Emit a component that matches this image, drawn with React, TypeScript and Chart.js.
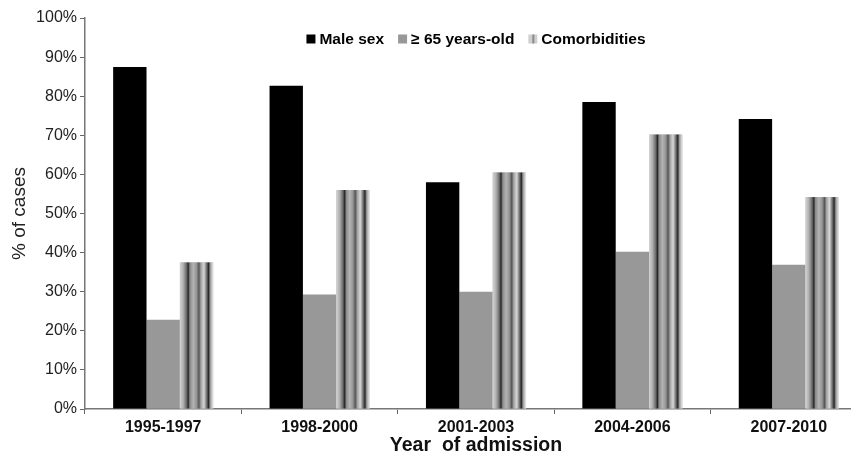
import React, { useEffect, useRef } from "react";
import { Chart, registerables } from "chart.js";

Chart.register(...registerables);

const categories = ["1995-1997", "1998-2000", "2001-2003", "2004-2006", "2007-2010"];
const maleSex = [87.5, 82.7, 58.0, 78.5, 74.2];
const age65 = [22.8, 29.3, 30.0, 40.2, 36.9];
const comorbidities = [37.5, 56.0, 60.5, 70.2, 54.2];
const seriesNames = ["Male sex", "\u2265 65 years-old", "Comorbidities"];

const stripeStops: [number, string][] = [
  [0.0, "#d4d4d4"],
  [0.1, "#b0b0b0"],
  [0.2, "#6a6a6a"],
  [0.25, "#262626"],
  [0.3, "#8a8a8a"],
  [0.4, "#b4b4b4"],
  [0.5, "#959595"],
  [0.57, "#555555"],
  [0.63, "#a2a2a2"],
  [0.72, "#d6d6d6"],
  [0.8, "#767676"],
  [0.86, "#262626"],
  [0.91, "#9a9a9a"],
  [1.0, "#ececec"],
];

const stripePlugin = {
  id: "stripes",
  afterDatasetsDraw(chart: any) {
    const meta = chart.getDatasetMeta(2);
    if (!meta || meta.hidden) return;
    const ctx = chart.ctx;
    ctx.save();
    meta.data.forEach((el: any) => {
      const p = el.getProps(["x", "y", "base", "width"], true);
      const left = p.x - p.width / 2;
      const g = ctx.createLinearGradient(left, 0, left + p.width, 0);
      stripeStops.forEach(([o, c]) => g.addColorStop(o, c));
      ctx.fillStyle = g;
      ctx.fillRect(left, p.y, p.width, p.base - p.y);
    });
    ctx.restore();
  },
};

// Horizontal legend drawn inside the plot area, near the top
const inAreaLegend = {
  id: "inAreaLegend",
  afterDraw(chart: any) {
    const ctx = chart.ctx;
    const area = chart.chartArea;
    const box = 9;
    const gapBoxText = 4;
    const gapItems = 14;
    const font = "bold 15.5px 'Liberation Sans'";
    ctx.save();
    ctx.font = font;
    const items = chart.data.datasets.map((ds: any, i: number) => ({
      label: ds.label,
      color: ds.backgroundColor,
      idx: i,
      w: box + gapBoxText + ctx.measureText(ds.label).width,
    }));
    const total = items.reduce((s: number, it: any) => s + it.w, 0) + gapItems * (items.length - 1);
    let x = (area.left + area.right) / 2 - total / 2;
    const cy = area.top + 21;
    ctx.textBaseline = "middle";
    ctx.textAlign = "left";
    items.forEach((it: any) => {
      if (it.idx === 2) {
        ctx.fillStyle = "#cfcfcf";
        ctx.fillRect(x, cy - box / 2, box, box);
        ctx.fillStyle = "#8a8a8a";
        ctx.fillRect(x + 4, cy - box / 2, 2, box);
      } else {
        ctx.fillStyle = it.color;
        ctx.fillRect(x, cy - box / 2, box, box);
      }
      ctx.fillStyle = "#000";
      ctx.fillText(it.label, x + box + gapBoxText, cy + 1);
      x += it.w + gapItems;
    });
    ctx.restore();
  },
};

export default function App() {
  const ref = useRef<HTMLCanvasElement | null>(null);
  useEffect(() => {
    if (!ref.current) return;
    const chart = new Chart(ref.current, {
      type: "bar",
      data: {
        labels: categories,
        datasets: [
          { label: seriesNames[0], data: maleSex, backgroundColor: "#000000" },
          { label: seriesNames[1], data: age65, backgroundColor: "#989898" },
          { label: seriesNames[2], data: comorbidities, backgroundColor: "#bdbdbd" },
        ],
      },
      plugins: [stripePlugin, inAreaLegend],
      options: {
        responsive: false,
        animation: false,
        devicePixelRatio: 1,
        layout: { padding: { top: 18, right: 3, left: 0, bottom: 0 } },
        datasets: { bar: { categoryPercentage: 0.64, barPercentage: 1.0 } },
        plugins: {
          legend: { display: false },
          tooltip: { enabled: false },
        },
        scales: {
          x: {
            afterFit: (s: any) => {
              s.height = 48;
            },
            grid: {
              offset: true,
              drawOnChartArea: false,
              drawTicks: true,
              tickLength: 5,
              color: "#666",
            },
            border: { color: "#777", width: 1.5 },
            ticks: {
              color: "#111",
              padding: 4,
              font: { family: "Liberation Sans", size: 16, weight: "bold" },
            },
            title: {
              display: true,
              text: "Year  of admission",
              color: "#111",
              padding: { top: 0, bottom: 0 },
              font: { family: "Liberation Sans", size: 19.5, weight: "bold" },
            },
          },
          y: {
            min: 0,
            max: 100,
            afterFit: (s: any) => {
              s.width = 85;
            },
            grid: { drawOnChartArea: false, tickLength: 5, color: "#666" },
            border: { color: "#777", width: 1.5 },
            ticks: {
              stepSize: 10,
              color: "#222",
              padding: 3,
              callback: (v: any) => v + "%",
              font: { family: "Liberation Sans", size: 16 },
            },
            title: {
              display: true,
              text: "% of cases",
              color: "#222",
              padding: { top: 8, bottom: 0 },
              font: { family: "Liberation Sans", size: 19 },
            },
          },
        },
      },
    });
    return () => chart.destroy();
  }, []);
  return (
    <div style={{ position: "fixed", left: 0, top: 0, width: 870, height: 457, background: "#fff" }}>
      <canvas ref={ref} width={870} height={457} style={{ display: "block" }} />
    </div>
  );
}
